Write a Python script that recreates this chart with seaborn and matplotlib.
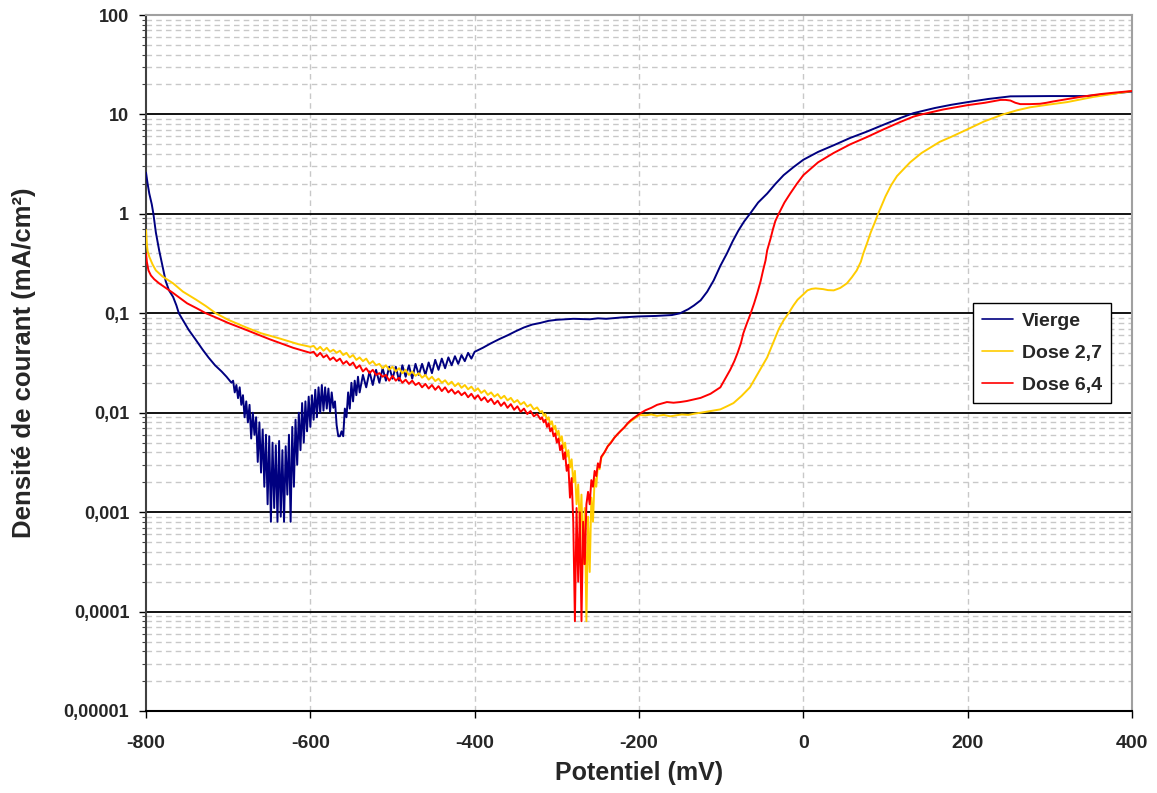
import matplotlib
matplotlib.use("Agg")
import matplotlib.pyplot as plt
from matplotlib.ticker import FixedLocator, NullFormatter
import seaborn as sns
import pandas as pd
import numpy as np

sns.set_style("white")
plt.rcParams['font.family'] = ['Liberation Sans', 'DejaVu Sans']
plt.rcParams['font.weight'] = 'bold'

# ---- Vierge (navy) ----
vierge_x = [-800, -798, -796, -793, -791, -788, -784, -780, -776, -772, -767, -763, -760, -755,
            -748, -740, -731, -724, -716, -708, -702, -696,
            # noisy part
            -694, -692, -690, -688, -686, -684, -682, -680, -678, -676, -674, -672, -670, -668,
            -666, -664, -662, -660, -658, -656, -654, -652, -650, -648, -646, -644, -642, -640,
            -638, -636, -634, -632, -630, -628, -626, -624, -622, -620, -618, -616, -614, -612,
            -610, -608, -606, -604, -602, -600, -598, -596, -594, -592, -590, -588, -586, -584,
            -582, -580, -578, -576, -574, -572, -570, -568, -566, -564, -562, -560, -558, -556,
            -554, -552, -550, -548, -546, -544, -542, -540,
            -536, -532, -528, -524, -520, -516, -512, -508, -504, -500, -496, -492, -488, -484,
            -480, -476, -472, -468, -464, -460, -456, -452, -448, -444, -440, -436, -432, -428,
            -424, -420, -416, -412, -408, -404,
            -400, -390, -380, -370, -360, -350, -340, -330, -320, -310, -300, -290, -280, -260,
            -250, -240, -220, -200, -180, -160, -150, -140, -133, -125, -117, -109, -101, -93,
            -86, -79, -72, -65, -55, -44, -34, -24, -12, 0, 18, 37, 57, 77, 98, 118, 134, 160,
            180, 200, 225, 252, 300, 345, 370, 400]
vierge_y = [2.6, 2.0, 1.6, 1.25, 1.0, 0.65, 0.43, 0.30, 0.21, 0.17, 0.146, 0.12, 0.10, 0.085,
            0.068, 0.055, 0.043, 0.036, 0.030, 0.026, 0.023, 0.020,
            0.021, 0.016, 0.019, 0.014, 0.018, 0.012, 0.015, 0.009, 0.013, 0.008, 0.012, 0.0055,
            0.010, 0.006, 0.009, 0.0032, 0.008, 0.0025, 0.0068, 0.0018, 0.006, 0.0012, 0.0058,
            0.0008, 0.005, 0.0011, 0.0047, 0.0008, 0.0052, 0.0009, 0.0042, 0.0008, 0.0046, 0.0015,
            0.006, 0.0008, 0.0072, 0.0018, 0.0085, 0.0030, 0.010, 0.0042, 0.0125, 0.005, 0.013,
            0.0065, 0.0145, 0.0072, 0.015, 0.0085, 0.017, 0.009, 0.018, 0.0100, 0.019, 0.0105,
            0.018, 0.011, 0.0175, 0.0102, 0.016, 0.0112, 0.013, 0.0075, 0.0058, 0.0058, 0.0065,
            0.0058, 0.011, 0.009, 0.016, 0.011, 0.020, 0.013, 0.021, 0.015, 0.023, 0.016,
            0.024, 0.018, 0.026, 0.019, 0.027, 0.020, 0.028, 0.021, 0.029, 0.022, 0.029, 0.021,
            0.030, 0.023, 0.030, 0.022, 0.031, 0.024, 0.031, 0.024, 0.032, 0.025, 0.034, 0.027,
            0.035, 0.028, 0.036, 0.030, 0.037, 0.031, 0.038, 0.033, 0.040, 0.035,
            0.041, 0.045, 0.050, 0.055, 0.060, 0.066, 0.072, 0.077, 0.080, 0.084, 0.086, 0.087,
            0.088, 0.087, 0.089, 0.088, 0.091, 0.093, 0.094, 0.096, 0.100, 0.110, 0.12, 0.135,
            0.165, 0.215, 0.30, 0.40, 0.53, 0.68, 0.84, 1.0, 1.3, 1.6, 2.0, 2.45, 2.95, 3.5,
            4.2, 4.9, 5.8, 6.7, 7.9, 9.2, 10.3, 11.6, 12.5, 13.3, 14.3, 15.2, 15.3, 15.3, 16.0,
            17.0]

# ---- Dose 2,7 (yellow) ----
dose27_x = [-800, -799, -798, -796, -792, -788, -780, -767, -755, -739, -727, -715, -700, -678,
            -660, -638, -615, -600,
            -596, -592, -588, -584, -580, -576, -572, -568, -564, -560, -556, -552, -548, -544,
            -540, -536, -532, -528, -524, -520, -516, -512, -508, -504, -500, -496, -492, -488,
            -484, -480, -476, -472, -468, -464, -460, -456, -452, -448, -444, -440, -436, -432,
            -428, -424, -420, -416, -412, -408, -404, -400, -396, -392, -388, -384, -380, -376,
            -372, -368, -364, -360, -356, -352, -348, -344, -340, -336, -332, -328, -324, -320,
            -318, -316, -314, -312, -310, -308, -306, -304, -302, -300, -298, -296, -294, -292,
            -290, -288, -286, -284, -282, -280, -278, -276, -274, -272, -270, -268, -266, -264,
            -262, -260, -258, -256, -254, -252, -250, -248,
            -246, -242, -238, -234, -230, -226, -222, -218, -214, -210, -205, -199, -192, -185,
            -178, -170, -162, -155, -148, -140, -132, -125, -113, -101, -93, -85, -75, -65, -55,
            -44, -37, -30, -24, -18, -12, -7, 0, 5, 10, 15, 24, 30, 37, 45, 53, 59, 65, 70, 73,
            78, 82, 87, 91, 100, 107, 114, 130, 144, 166, 179, 200, 220, 243, 260, 276, 300,
            321, 340, 353, 375, 400]
dose27_y = [0.69, 0.50, 0.42, 0.37, 0.31, 0.27, 0.235, 0.20, 0.165, 0.137, 0.118, 0.10, 0.086,
            0.072, 0.063, 0.056, 0.049, 0.046,
            0.047, 0.043, 0.046, 0.042, 0.045, 0.041, 0.043, 0.040, 0.042, 0.038, 0.040, 0.036,
            0.038, 0.034, 0.036, 0.033, 0.035, 0.031, 0.033, 0.030, 0.031, 0.028, 0.030, 0.027,
            0.029, 0.026, 0.028, 0.025, 0.027, 0.024, 0.026, 0.0235, 0.025, 0.0225, 0.024,
            0.0215, 0.023, 0.0208, 0.022, 0.020, 0.0212, 0.0192, 0.0205, 0.0185, 0.0198,
            0.0178, 0.019, 0.0172, 0.0183, 0.0165, 0.0176, 0.0158, 0.0168, 0.0151, 0.016,
            0.0145, 0.0154, 0.0139, 0.0148, 0.0133, 0.0141, 0.0127, 0.0134, 0.0121, 0.0128,
            0.0115, 0.0121, 0.0108, 0.0113, 0.0101,
            0.0104, 0.0093, 0.0097, 0.0085, 0.0090, 0.0076, 0.0082, 0.0068, 0.0074, 0.0060,
            0.0066, 0.0052, 0.0058, 0.0044, 0.0050, 0.0036, 0.0042, 0.0028, 0.0034, 0.0020,
            0.0026, 0.0012, 0.0019, 0.0007, 0.0015, 0.0003, 0.0011, 0.00008, 0.0009, 0.00025,
            0.0014, 0.0008, 0.0022, 0.0018, 0.0030, 0.0027,
            0.0035, 0.0040, 0.0046, 0.0051, 0.0056, 0.0061, 0.0066, 0.0071, 0.0077, 0.0082,
            0.0088, 0.0095, 0.0094, 0.0096, 0.0093, 0.0095, 0.0092, 0.0094, 0.0096, 0.0095,
            0.0098, 0.0100, 0.0104, 0.0108, 0.0116, 0.0125, 0.0148, 0.018, 0.025, 0.036, 0.050,
            0.069, 0.085, 0.10, 0.12, 0.137, 0.155, 0.17, 0.176, 0.178, 0.175, 0.171, 0.170,
            0.180, 0.20, 0.23, 0.27, 0.33, 0.40, 0.52, 0.65, 0.82, 1.0, 1.5, 1.95, 2.4, 3.3,
            4.1, 5.3, 5.9, 7.1, 8.5, 10.0, 11.0, 11.8, 12.6, 13.3, 14.3, 15.0, 16.0, 17.2]

# ---- Dose 6,4 (red) ----
dose64_x = [-800, -799, -797, -794, -790, -784, -775, -767, -750, -738, -727, -714, -700, -678,
            -650, -621, -600,
            -596, -592, -588, -584, -580, -576, -572, -568, -564, -560, -556, -552, -548, -544,
            -540, -536, -532, -528, -524, -520, -516, -512, -508, -504, -500, -496, -492, -488,
            -484, -480, -476, -472, -468, -464, -460, -456, -452, -448, -444, -440, -436, -432,
            -428, -424, -420, -416, -412, -408, -404, -400, -396, -392, -388, -384, -380, -376,
            -372, -368, -364, -360, -356, -352, -348, -344, -340, -336, -332, -328, -324, -320,
            -318, -316, -314, -312, -310, -308, -306, -304, -302, -300, -298, -296, -294, -292,
            -290, -288, -286, -284, -282, -280, -278, -276, -274, -272, -270, -268, -266, -264,
            -262, -260, -258, -256, -254, -252, -250, -248,
            -246, -242, -238, -234, -230, -226, -222, -218, -214, -210, -205, -199, -192, -185,
            -178, -172, -166, -158, -150, -142, -135, -125, -113, -101, -95, -89, -84, -80, -76,
            -73, -69, -65, -60, -56, -52, -49, -46, -44, -40, -37, -34, -30, -23, -16, -8, 0, 18,
            37, 57, 77, 98, 118, 134, 144, 170, 200, 221, 240, 246, 252, 258, 264, 276, 288, 296,
            304, 320, 337, 361, 380, 400]
dose64_y = [0.40, 0.33, 0.27, 0.24, 0.22, 0.20, 0.178, 0.16, 0.126, 0.112, 0.10, 0.09, 0.080,
            0.068, 0.055, 0.045, 0.040,
            0.041, 0.037, 0.040, 0.036, 0.038, 0.034, 0.036, 0.033, 0.035, 0.031, 0.033, 0.030,
            0.032, 0.028, 0.030, 0.026, 0.028, 0.025, 0.027, 0.024, 0.025, 0.023, 0.024, 0.021,
            0.0235, 0.021, 0.0225, 0.020, 0.0215, 0.0195, 0.021, 0.019, 0.020, 0.018, 0.0195,
            0.0175, 0.019, 0.017, 0.0185, 0.0165, 0.018, 0.016, 0.0172, 0.0155, 0.0165, 0.015,
            0.016, 0.0143, 0.0155, 0.0138, 0.015, 0.0133, 0.0143, 0.0128, 0.0138, 0.0122,
            0.0132, 0.0117, 0.0127, 0.0112, 0.0122, 0.0107, 0.0116, 0.0102, 0.0110, 0.0097,
            0.0104, 0.0092, 0.0097, 0.0086,
            0.0090, 0.0080, 0.0085, 0.0072, 0.0078, 0.0065, 0.0070, 0.0058, 0.0062, 0.0050,
            0.0055, 0.0042, 0.0047, 0.0034, 0.0040, 0.0026, 0.0030, 0.0014, 0.0022, 0.0008,
            0.00008, 0.0011, 0.0002, 0.0010, 0.00008, 0.0008, 0.0003, 0.0012, 0.0016, 0.0012,
            0.0021, 0.0018, 0.0026, 0.0023, 0.0031, 0.0028,
            0.0036, 0.0040, 0.0046, 0.0050, 0.0056, 0.0061, 0.0066, 0.0071, 0.0078, 0.0084,
            0.0090, 0.0098, 0.0106, 0.0112, 0.0120, 0.0124, 0.0128, 0.0126, 0.0128, 0.0131,
            0.0135, 0.0141, 0.0155, 0.018, 0.022, 0.027, 0.033, 0.040, 0.050, 0.063, 0.078,
            0.095, 0.125, 0.16, 0.21, 0.27, 0.34, 0.43, 0.56, 0.70, 0.85, 1.0, 1.3, 1.6, 2.0,
            2.45, 3.3, 4.1, 5.0, 5.9, 7.1, 8.4, 9.5, 10.0, 11.2, 12.4, 13.1, 14.0, 14.0, 13.8,
            13.1, 12.7, 12.7, 12.8, 13.1, 13.5, 14.2, 15.0, 16.0, 16.6, 17.2]

series_names = ['Vierge', 'Dose 2,7', 'Dose 6,4']
series_colors = ['#000080', '#FFCC00', '#FF0000']

y_ticks = [1e-5, 1e-4, 1e-3, 1e-2, 1e-1, 1, 10, 100]
y_labels = ['0,00001', '0,0001', '0,001', '0,01', '0,1', '1', '10', '100']
x_ticks = [-800, -600, -400, -200, 0, 200, 400]
x_labels = ['-800', '-600', '-400', '-200', '0', '200', '400']

df = pd.concat([
    pd.DataFrame({'Potentiel': vierge_x, 'Densite': vierge_y, 'Serie': 'Vierge'}),
    pd.DataFrame({'Potentiel': dose27_x, 'Densite': dose27_y, 'Serie': 'Dose 2,7'}),
    pd.DataFrame({'Potentiel': dose64_x, 'Densite': dose64_y, 'Serie': 'Dose 6,4'}),
], ignore_index=True)

fig = plt.figure(figsize=(11.57, 7.93), dpi=100)
ax = fig.add_axes([146 / 1157, 82 / 793, 986 / 1157, 696 / 793])

ax.set_yscale('log')
ax.set_xlim(-800, 400)
ax.set_ylim(1e-5, 100)

# grid
minor_y = [m * 10.0 ** e for e in range(-5, 2) for m in range(2, 10)]
for v in minor_y:
    ax.axhline(v, color='#C8C8C8', lw=1.0, ls=(0, (4, 3)), zorder=0)
for v in y_ticks[1:-1]:
    ax.axhline(v, color='black', lw=1.3, zorder=1)
for v in x_ticks[1:-1]:
    ax.axvline(v, color='#C8C8C8', lw=1.0, ls=(0, (4, 3)), zorder=0)

sns.lineplot(data=df, x='Potentiel', y='Densite', hue='Serie', hue_order=series_names,
             palette=series_colors, sort=False, estimator=None, lw=1.4, ax=ax, zorder=3)

ax.yaxis.set_major_locator(FixedLocator(y_ticks))
ax.set_yticklabels(y_labels)
ax.yaxis.set_minor_locator(FixedLocator(minor_y))
ax.yaxis.set_minor_formatter(NullFormatter())
ax.set_xticks(x_ticks)
ax.set_xticklabels(x_labels)
ax.tick_params(axis='both', which='major', direction='out', length=5, width=1,
               color='black', left=True, bottom=True)
ax.tick_params(axis='x', which='major', labelsize=14, pad=12)
ax.tick_params(axis='y', which='major', labelsize=13, pad=7)
ax.tick_params(axis='y', which='minor', direction='out', length=3, width=0.8,
               color='#404040', left=True)
for lbl in ax.get_xticklabels() + ax.get_yticklabels():
    lbl.set_fontweight('bold')

ax.spines['left'].set_color('#404040')
ax.spines['left'].set_linewidth(1.5)
ax.spines['bottom'].set_color('black')
ax.spines['bottom'].set_linewidth(1.5)
ax.spines['top'].set_color('#A0A0A0')
ax.spines['top'].set_linewidth(1.5)
ax.spines['right'].set_color('#A0A0A0')
ax.spines['right'].set_linewidth(1.5)

ax.set_xlabel('Potentiel (mV)', fontsize=18, fontweight='bold')
ax.set_ylabel('Densité de courant (mA/cm²)', fontsize=18.5, fontweight='bold')
ax.xaxis.set_label_coords(0.5, -0.072)
ax.yaxis.set_label_coords(-0.112, 0.5)

leg = ax.legend(loc='upper left', bbox_to_anchor=(0.839, 0.586), frameon=True, fancybox=False,
                edgecolor='black', framealpha=1, fontsize=14, handlelength=1.6,
                borderpad=0.45, labelspacing=0.75, handletextpad=0.45, borderaxespad=0)
leg.get_frame().set_linewidth(1.0)
for t in leg.get_texts():
    t.set_fontweight('bold')
for h in leg.get_lines():
    h.set_linewidth(1.2)

fig.savefig('out.png', dpi=100)
